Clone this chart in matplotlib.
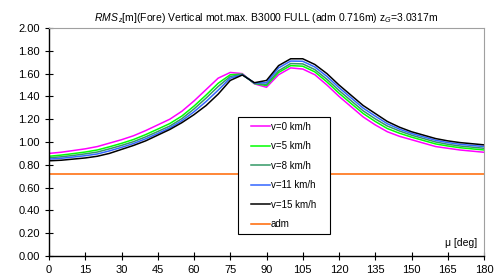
import matplotlib
matplotlib.use("Agg")
import matplotlib.pyplot as plt
from matplotlib.patches import Rectangle
import numpy as np

plt.rcParams['font.family'] = ['Liberation Sans', 'DejaVu Sans']
plt.rcParams['mathtext.fontset'] = 'custom'
plt.rcParams['mathtext.rm'] = 'Liberation Sans'
plt.rcParams['mathtext.it'] = 'Liberation Sans:italic'

mu = [0, 5, 10, 15, 20, 25, 30, 35, 40, 45, 50, 55, 60, 65, 70, 75, 80, 85, 90,
      95, 100, 105, 110, 115, 120, 125, 130, 135, 140, 145, 150, 155, 160, 165, 170, 175, 180]
v0 = [.900, .910, .925, .940, .960, .990, 1.020, 1.055, 1.100, 1.150, 1.200, 1.270, 1.360, 1.460,
      1.560, 1.610, 1.600, 1.510, 1.480, 1.590, 1.650, 1.640, 1.590, 1.500, 1.400, 1.310, 1.220,
      1.150, 1.090, 1.050, 1.020, .990, .960, .945, .930, .920, .910]
v5 = [.875, .885, .898, .912, .930, .958, .988, 1.022, 1.065, 1.113, 1.162, 1.228, 1.315, 1.412,
      1.515, 1.590, 1.595, 1.513, 1.495, 1.610, 1.670, 1.665, 1.615, 1.527, 1.428, 1.338, 1.250,
      1.180, 1.118, 1.077, 1.043, 1.013, .983, .965, .950, .940, .930]
v8 = [.862, .870, .882, .896, .912, .940, .970, 1.003, 1.045, 1.092, 1.140, 1.205, 1.290, 1.385,
      1.487, 1.575, 1.592, 1.515, 1.505, 1.625, 1.688, 1.685, 1.635, 1.550, 1.452, 1.362, 1.273,
      1.203, 1.140, 1.097, 1.060, 1.030, 1.000, .980, .965, .955, .945]
v11 = [.850, .857, .868, .880, .895, .922, .953, .987, 1.028, 1.075, 1.124, 1.187, 1.265, 1.355,
       1.455, 1.560, 1.590, 1.518, 1.520, 1.650, 1.710, 1.708, 1.658, 1.575, 1.477, 1.387, 1.297,
       1.227, 1.160, 1.113, 1.075, 1.045, 1.015, .995, .980, .970, .960]
v15 = [.835, .840, .850, .860, .875, .900, .935, .970, 1.010, 1.060, 1.110, 1.170, 1.240, 1.320,
       1.420, 1.540, 1.588, 1.520, 1.540, 1.670, 1.730, 1.730, 1.680, 1.600, 1.500, 1.410, 1.320,
       1.250, 1.180, 1.130, 1.090, 1.060, 1.030, 1.010, .995, .985, .975]
adm = 0.716

labels = ['v=0 km/h', 'v=5 km/h', 'v=8 km/h', 'v=11 km/h', 'v=15 km/h', 'adm']
colors = ['#FF00FF', '#00FF00', '#339966', '#3366FF', '#000000', '#FF6600']
series = [v0, v5, v8, v11, v15]

W, H = 496, 279
fig = plt.figure(figsize=(W/100, H/100), dpi=100)
ax = fig.add_axes([49/W, 23/H, 435/W, 228/H])

for s, c, l in zip(series, colors[:5], labels[:5]):
    ax.plot(mu, s, color=c, lw=1.1, label=l)
ax.plot([mu[0], mu[-1]], [adm, adm], color=colors[5], lw=1.1, label=labels[5])

ax.set_xlim(0, 180)
ax.set_ylim(0, 2.0)
ax.set_xticks(np.arange(0, 181, 15))
yt = np.arange(0, 2.01, 0.2)
ax.set_yticks(yt)
ax.set_yticklabels([f"{v:.2f}" for v in yt])
ax.tick_params(direction='inout', length=6, width=0.8, labelsize=8, colors='black')
for sp in ['top', 'right']:
    ax.spines[sp].set_color('#A0A0A0')
for sp in ['left', 'bottom']:
    ax.spines[sp].set_color('black')
    ax.spines[sp].set_linewidth(1.0)

ax.set_title(r"$\mathit{RMS}_{\,z}$[m](Fore) Vertical mot.max. B3000 FULL (adm 0.716m) z$_G$=3.0317m",
             fontsize=7.5, pad=5)
ax.text(0.948, 0.055, "\u03bc [deg]", transform=ax.transAxes, fontsize=7.5, ha='center', va='center')

# legend frame (pixel box 237..329 x 117..234)
x0, x1, yt0, yb0 = 237.5, 329.5, 117, 234
rect = Rectangle((x0/W, (H-yb0)/H), (x1-x0)/W, (yb0-yt0)/H, transform=fig.transFigure,
                 facecolor='white', edgecolor='black', lw=0.8, zorder=5)
fig.patches.append(rect)
leg = fig.legend(loc='center', bbox_to_anchor=((x0+x1)/2/W, (H-(yt0+yb0)/2)/H), fontsize=7,
                 frameon=False, handlelength=1.9, labelspacing=0.98, borderpad=0.0,
                 handletextpad=0.1)
leg.set_zorder(6)

fig.savefig("out.png", dpi=100)
